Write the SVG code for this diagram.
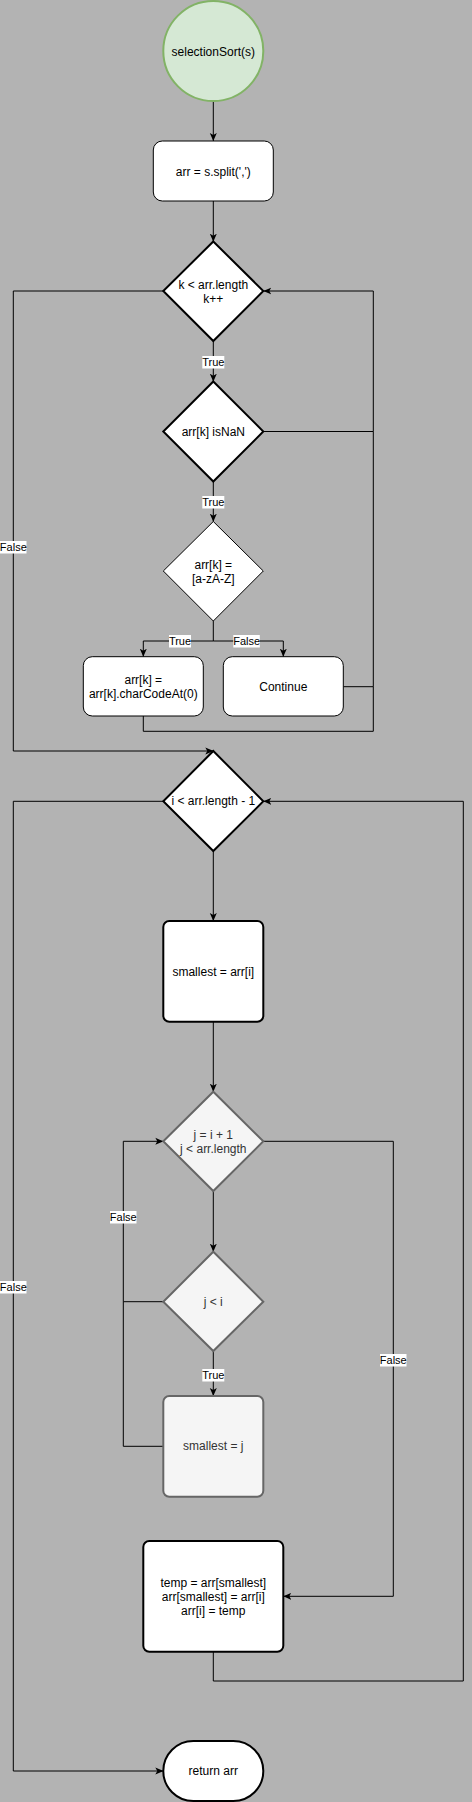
<svg xmlns="http://www.w3.org/2000/svg" width="472" height="1802" viewBox="0 0 472 1802">
<style>
.t{font-family:"Liberation Sans",Arial,sans-serif;font-size:12px;fill:#000;text-anchor:middle;dominant-baseline:central}
.tg{fill:#333}
.lb{font-family:"Liberation Sans",Arial,sans-serif;font-size:11px;fill:#000;text-anchor:middle;dominant-baseline:central}
.lbg{fill:#fff}
.c{fill:none;stroke:#000;stroke-width:1}
.n1{fill:#fff;stroke:#000;stroke-width:1}
.n2{fill:#fff;stroke:#000;stroke-width:2}
.ng{fill:#f5f5f5;stroke:#666;stroke-width:2}
</style>
<defs>
<marker id="a" markerUnits="userSpaceOnUse" markerWidth="8" markerHeight="8" refX="8" refY="4" orient="auto" viewBox="0 0 8 8">
<path d="M0,0.5 L8,4 L0,7.5 L2,4 z" fill="#000"/>
</marker>
</defs>
<rect x="0" y="0" width="472" height="1802" fill="#b3b3b3"/>
<g id="connectors">
<path class="c" d="M213.3,101 V141" marker-end="url(#a)"/>
<path class="c" d="M213.3,201 V241.7" marker-end="url(#a)"/>
<path class="c" d="M213.3,341 V381.7" marker-end="url(#a)"/>
<path class="c" d="M213.3,481.5 V521.7" marker-end="url(#a)"/>
<path class="c" d="M213.3,621 V641 H143.3 V656.7" marker-end="url(#a)"/>
<path class="c" d="M213.3,641 H283.3 V656.7" marker-end="url(#a)"/>
<path class="c" d="M163.3,291 H13.3 V751 H213.3" marker-end="url(#a)"/>
<path class="c" d="M263.3,431.5 H373.3 V291 H263.3" marker-end="url(#a)"/>
<path class="c" d="M343.3,686.7 H373.3 V431.5"/>
<path class="c" d="M143.3,716 V731.3 H373.3 V686.7"/>
<path class="c" d="M213.3,851 V921" marker-end="url(#a)"/>
<path class="c" d="M163.3,801.3 H13.3 V1771 H163.3" marker-end="url(#a)"/>
<path class="c" d="M213.3,1021.7 V1091.7" marker-end="url(#a)"/>
<path class="c" d="M213.3,1191 V1251.7" marker-end="url(#a)"/>
<path class="c" d="M263.3,1141.3 H393.3 V1596.3 H283.3" marker-end="url(#a)"/>
<path class="c" d="M213.3,1351 V1396" marker-end="url(#a)"/>
<path class="c" d="M163.3,1301.7 H123.3 V1141.3 H163.3" marker-end="url(#a)"/>
<path class="c" d="M163.3,1446.3 H123.3 V1301.7"/>
<path class="c" d="M213.3,1651.7 V1681 H463.3 V801.3 H263.3" marker-end="url(#a)"/>
<rect class="lbg" x="202.3" y="356" width="22" height="12.5"/>
<text class="lb" x="213.3" y="362.3">True</text>
<rect class="lbg" x="202.3" y="496" width="22" height="12.5"/>
<text class="lb" x="213.3" y="502.3">True</text>
<rect class="lbg" x="169" y="635" width="22" height="12.5"/>
<text class="lb" x="180" y="641">True</text>
<rect class="lbg" x="233.3" y="635" width="26.5" height="12.5"/>
<text class="lb" x="246.7" y="641">False</text>
<rect class="lbg" x="0" y="541" width="26.5" height="12.5"/>
<text class="lb" x="13.3" y="547">False</text>
<rect class="lbg" x="0" y="1281" width="26.5" height="12.5"/>
<text class="lb" x="13.3" y="1287">False</text>
<rect class="lbg" x="110" y="1211" width="26.5" height="12.5"/>
<text class="lb" x="123.3" y="1217">False</text>
<rect class="lbg" x="202.3" y="1369" width="22" height="12.5"/>
<text class="lb" x="213.3" y="1375">True</text>
<rect class="lbg" x="380" y="1354" width="26.5" height="12.5"/>
<text class="lb" x="393.3" y="1360">False</text>
</g>
<g id="start">
<circle cx="213.3" cy="51" r="50" fill="#d5e8d4" stroke="#82b366" stroke-width="2"/>
<text class="t" x="213.3" y="51.5">selectionSort(s)</text>
</g>
<g id="split">
<rect class="n1" x="153.3" y="141" width="120" height="60" rx="9"/>
<text class="t" x="213.3" y="171.5">arr = s.split(',')</text>
</g>
<g id="loopK">
<path class="n2" d="M213.3,241.5 L263.3,291 L213.3,341 L163.3,291 z"/>
<text class="t" x="213.3" y="284.5">k &lt; arr.length</text>
<text class="t" x="213.3" y="298.5">k++</text>
</g>
<g id="isNaN">
<path class="n2" d="M213.3,381.5 L263.3,431.5 L213.3,481.5 L163.3,431.5 z"/>
<text class="t" x="213.3" y="431.5">arr[k] isNaN</text>
</g>
<g id="isLetter">
<path class="n1" d="M213.3,521.5 L263.3,571 L213.3,621 L163.3,571 z"/>
<text class="t" x="213.3" y="564.5">arr[k] =</text>
<text class="t" x="213.3" y="578.5">[a-zA-Z]</text>
</g>
<g id="charCode">
<rect class="n1" x="83.3" y="656.7" width="120" height="59.3" rx="9"/>
<text class="t" x="143.3" y="679.5">arr[k] =</text>
<text class="t" x="143.3" y="693.5">arr[k].charCodeAt(0)</text>
</g>
<g id="continue">
<rect class="n1" x="223.3" y="656.7" width="120" height="59.3" rx="9"/>
<text class="t" x="283.3" y="686.5">Continue</text>
</g>
<g id="loopI">
<path class="n2" d="M213.3,751 L263.3,801.3 L213.3,851 L163.3,801.3 z"/>
<text class="t" x="213.3" y="801.3">i &lt; arr.length - 1</text>
</g>
<g id="smallestI">
<rect class="n2" x="163.3" y="921" width="100" height="100.7" rx="6"/>
<text class="t" x="213.3" y="971.5">smallest = arr[i]</text>
</g>
<g id="loopJ">
<path class="ng" d="M213.3,1091.7 L263.3,1141.3 L213.3,1191 L163.3,1141.3 z"/>
<text class="t tg" x="213.3" y="1134.7">j  = i + 1</text>
<text class="t tg" x="213.3" y="1148.7">j &lt; arr.length</text>
</g>
<g id="jLessI">
<path class="ng" d="M213.3,1251.7 L263.3,1301.7 L213.3,1351 L163.3,1301.7 z"/>
<text class="t tg" x="213.3" y="1301.7">j &lt; i</text>
</g>
<g id="smallestJ">
<rect class="ng" x="163.3" y="1396" width="100" height="100.7" rx="6"/>
<text class="t tg" x="213.3" y="1446.3">smallest = j</text>
</g>
<g id="swap">
<rect class="n2" x="143.3" y="1541" width="140" height="110.7" rx="6"/>
<text class="t" x="213.3" y="1582.5">temp = arr[smallest]</text>
<text class="t" x="213.3" y="1596.5">arr[smallest] = arr[i]</text>
<text class="t" x="213.3" y="1610.5">arr[i] = temp</text>
</g>
<g id="return">
<rect class="n2" x="163.3" y="1741" width="100" height="60" rx="30"/>
<text class="t" x="213.3" y="1771">return arr</text>
</g>
</svg>
